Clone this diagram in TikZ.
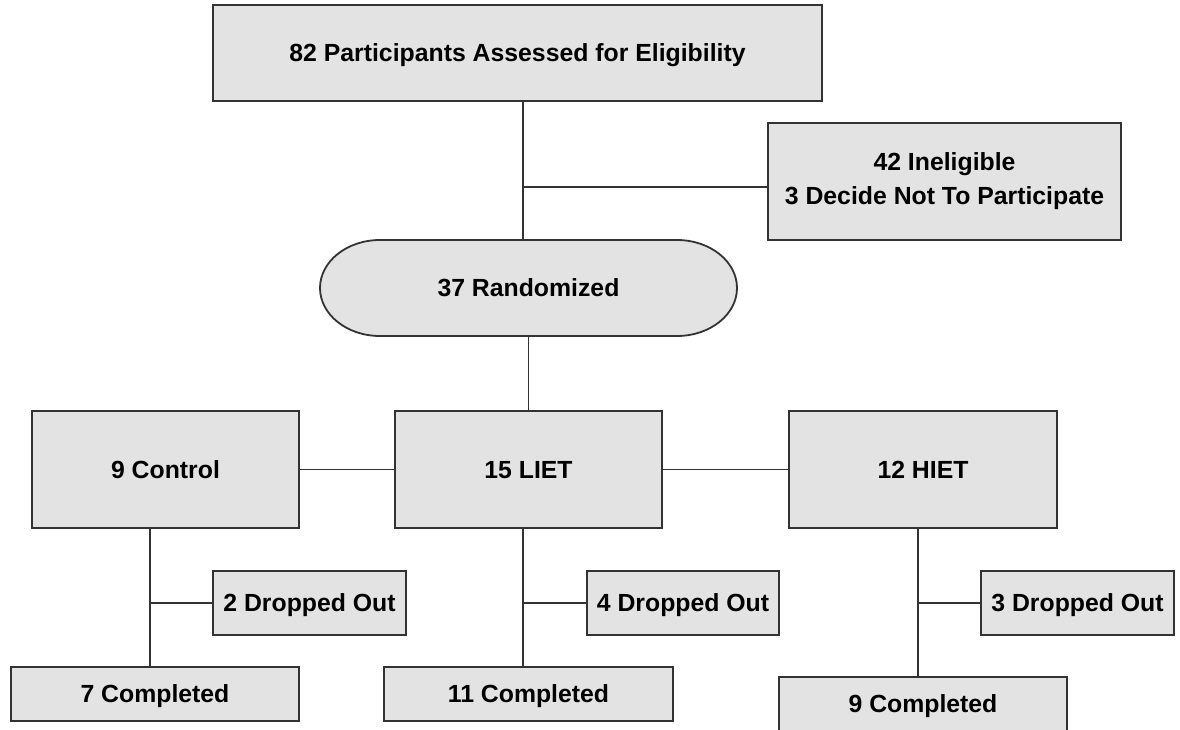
\documentclass[tikz,border=0pt]{standalone}
\usepackage{fontspec}
\setmainfont{Liberation Sans}
\definecolor{boxfill}{HTML}{E3E3E3}
\definecolor{boxline}{HTML}{333333}
\tikzset{
  box/.style={draw=boxline, fill=boxfill, line width=1.8pt, inner sep=0pt,
    font=\fontsize{24.8}{34}\selectfont\bfseries, align=center},
  oneline/.style={box, text height=17.9pt, text depth=0pt},
  conn/.style={draw=boxline, line width=1.6pt},
}
\begin{document}
\begin{tikzpicture}[x=1pt,y=-1pt]
\useasboundingbox (0,0) rectangle (1180,730);
% boxes
\node[oneline, minimum width=609pt, minimum height=96pt] (top) at (517.5,53) {82 Participants Assessed for Eligibility};
\node[box, minimum width=353pt, minimum height=117pt] (inel) at (944.5,181.5) {42 Ineligible\\3 Decide Not To Participate};
% oval
\filldraw[draw=boxline, fill=boxfill, line width=1.8pt]
  (380,240) arc[start angle=90, end angle=270, x radius=60pt, y radius=48pt]
  -- (677,336) arc[start angle=270, end angle=450, x radius=60pt, y radius=48pt]
  -- cycle;
\node[oneline, draw=none, fill=none, minimum width=417pt, minimum height=96pt] (rand) at (528.5,288) {37 Randomized};
\node[oneline, minimum width=267pt, minimum height=117pt] (ctrl) at (165.5,469.5) {9 Control};
\node[oneline, minimum width=267pt, minimum height=117pt] (liet) at (528.5,469.5) {15 LIET};
\node[oneline, minimum width=268pt, minimum height=117pt] (hiet) at (923,469.5) {12 HIET};
\node[oneline, minimum width=193pt, minimum height=64pt] (drop2) at (309.5,603) {2 Dropped Out};
\node[oneline, minimum width=192pt, minimum height=64pt] (drop4) at (683,603) {4 Dropped Out};
\node[oneline, minimum width=193pt, minimum height=64pt] (drop3) at (1077.5,603) {3 Dropped Out};
\node[oneline, minimum width=288pt, minimum height=54pt] (comp7) at (155,694) {7 Completed};
\node[oneline, minimum width=289pt, minimum height=54pt] (comp11) at (528.5,694) {11 Completed};
\node[oneline, minimum width=288pt, minimum height=54pt] (comp9) at (923,704) {9 Completed};
% branch points
\coordinate (b0) at (523,187);
\coordinate (b1) at (150,603);
\coordinate (b2) at (523,603);
\coordinate (b3) at (918,603);
% connectors
\draw[conn] (b0 |- top.south) -- (b0 |- rand.north);
\draw[conn] (b0) -- (inel.west |- b0);
\draw[conn] (rand.south) -- (liet.north);
\draw[conn] (ctrl.east) -- (liet.west);
\draw[conn] (liet.east) -- (hiet.west);
\draw[conn] (b1 |- ctrl.south) -- (b1 |- comp7.north);
\draw[conn] (b1) -- (drop2.west);
\draw[conn] (b2 |- liet.south) -- (b2 |- comp11.north);
\draw[conn] (b2) -- (drop4.west);
\draw[conn] (b3 |- hiet.south) -- (b3 |- comp9.north);
\draw[conn] (b3) -- (drop3.west);
\end{tikzpicture}
\end{document}
